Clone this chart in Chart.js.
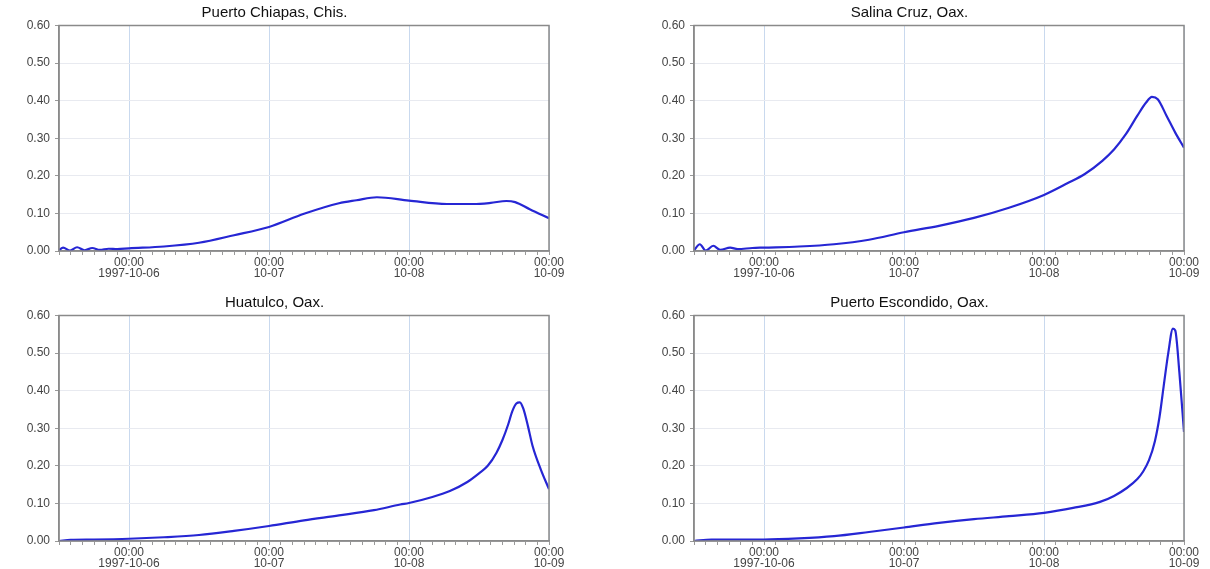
<!DOCTYPE html>
<html>
<head>
<meta charset="utf-8">
<script src="https://cdn.jsdelivr.net/npm/chart.js@4/dist/chart.umd.min.js"></script>
<style>
  body { margin: 0; background: #fff; width: 1210px; height: 569px; position: relative; overflow: hidden; }
  canvas { position: absolute; }
</style>
</head>
<body>
<canvas id="c1" width="569" height="285" style="left:0;top:0"></canvas>
<canvas id="c2" width="569" height="285" style="left:635px;top:0"></canvas>
<canvas id="c3" width="569" height="285" style="left:0;top:290px"></canvas>
<canvas id="c4" width="569" height="285" style="left:635px;top:290px"></canvas>
<script>
// hours relative to 1997-10-06 00:00
const dayTicks = [0, 24, 48, 72];
const dayLabels = [['00:00', '1997-10-06'], ['00:00', '10-07'], ['00:00', '10-08'], ['00:00', '10-09']];
const yTicks = [0, 0.1, 0.2, 0.3, 0.4, 0.5, 0.6];

const chiapasHours = [-12, -11.3, -10.1, -8.9, -7.6, -6.3, -5, -3.5, -2, 0, 6, 12, 18, 24, 30, 36, 39, 42.5, 48, 54.5, 59, 62, 64.7, 66.2, 68.7, 72];
const chiapasValues = [0.002, 0.009, 0.001, 0.010, 0.002, 0.008, 0.003, 0.006, 0.005, 0.007, 0.012, 0.022, 0.042, 0.064, 0.099, 0.127, 0.135, 0.143, 0.134, 0.125, 0.125, 0.128, 0.133, 0.130, 0.111, 0.087];

const salinaHours = [-12, -11, -10, -8.7, -7.5, -5.8, -4.5, -2, 0, 6, 12, 18, 24, 30, 36, 42, 48, 52, 55, 58, 60, 62, 64, 65.5, 66.5, 67.5, 69, 70.5, 72];
const salinaValues = [0.002, 0.018, 0.001, 0.014, 0.003, 0.009, 0.005, 0.008, 0.009, 0.012, 0.018, 0.030, 0.050, 0.067, 0.088, 0.115, 0.149, 0.180, 0.205, 0.240, 0.270, 0.310, 0.360, 0.395, 0.410, 0.404, 0.360, 0.315, 0.275];

const huatulcoHours = [-12, -10, -6, 0, 6, 12, 18, 24, 30, 36, 42, 46.5, 48, 52, 55, 58, 60, 61.5, 63, 64, 65, 65.7, 66.4, 67, 67.6, 68.4, 69.2, 70.6, 72];
const huatulcoValues = [0.000, 0.003, 0.004, 0.006, 0.010, 0.016, 0.027, 0.040, 0.055, 0.068, 0.082, 0.097, 0.101, 0.117, 0.133, 0.157, 0.180, 0.200, 0.235, 0.268, 0.310, 0.345, 0.366, 0.369, 0.352, 0.305, 0.252, 0.190, 0.138];

const escondidoHours = [-12, -9, 0, 6, 12, 18, 24, 30, 36, 42, 48, 53, 57.6, 60, 62.2, 64, 65, 66, 67, 67.8, 68.5, 69.3, 70.1, 70.5, 71.2, 72];
const escondidoValues = [0.000, 0.004, 0.004, 0.007, 0.013, 0.024, 0.036, 0.048, 0.058, 0.066, 0.075, 0.088, 0.104, 0.120, 0.141, 0.165, 0.185, 0.215, 0.265, 0.330, 0.410, 0.500, 0.565, 0.560, 0.450, 0.290];

// minor tick every 2 hours
const xTickHours = [];
for (let h = -12; h <= 72; h += 2) xTickHours.push(h);

Chart.defaults.font.family = '"Liberation Sans", Arial, sans-serif';
Chart.defaults.color = '#444';

const frame = {
    id: 'frame',
    afterDatasetsDraw(chart) {
        const a = chart.chartArea;
        const ctx = chart.ctx;
        ctx.save();
        ctx.strokeStyle = '#8a8a8a';
        ctx.lineWidth = 1.5;
        ctx.strokeRect(a.left, a.top, a.right - a.left, a.bottom - a.top);
        ctx.restore();
    }
};

function makeChart(id, title, hours, values) {
    new Chart(document.getElementById(id), {
        type: 'line',
        data: {
            datasets: [{
                data: hours.map((h, i) => ({ x: h, y: values[i] })),
                borderColor: '#2626d4',
                borderWidth: 2.2,
                pointRadius: 0,
                cubicInterpolationMode: 'monotone',
                fill: false
            }]
        },
        options: {
            responsive: false,
            animation: false,
            layout: { padding: { left: 0, right: 20, top: 0, bottom: 0 } },
            plugins: {
                legend: { display: false },
                tooltip: { enabled: false },
                title: {
                    display: true,
                    text: title,
                    color: '#111',
                    font: { size: 15, weight: 'normal', lineHeight: 1.1 },
                    padding: { top: 5, bottom: 4 }
                }
            },
            scales: {
                x: {
                    type: 'linear',
                    min: -12,
                    max: 72,
                    afterBuildTicks: scale => { scale.ticks = xTickHours.map(v => ({ value: v })); },
                    afterFit: scale => { scale.height = 34; },
                    ticks: {
                        autoSkip: false,
                        maxRotation: 0,
                        minRotation: 0,
                        padding: 3,
                        font: { size: 12, lineHeight: 0.85 },
                        color: '#444',
                        callback: v => {
                            const i = dayTicks.indexOf(v);
                            return i >= 0 ? dayLabels[i] : '';
                        }
                    },
                    grid: {
                        color: ctx => (ctx.tick && dayTicks.includes(ctx.tick.value)) ? '#c9d9ee' : 'rgba(0,0,0,0)',
                        tickColor: '#999',
                        tickLength: 4
                    },
                    border: { color: '#8a8a8a', width: 1.5 }
                },
                y: {
                    min: 0,
                    max: 0.6,
                    afterBuildTicks: scale => { scale.ticks = yTicks.map(v => ({ value: v })); },
                    afterFit: scale => { scale.width = 59; },
                    ticks: {
                        padding: 5,
                        font: { size: 12 },
                        color: '#444',
                        callback: v => v.toFixed(2)
                    },
                    grid: {
                        color: '#e8eaf0',
                        tickColor: '#999',
                        tickLength: 4
                    },
                    border: { color: '#8a8a8a', width: 1.5 }
                }
            }
        },
        plugins: [frame]
    });
}

makeChart('c1', 'Puerto Chiapas, Chis.', chiapasHours, chiapasValues);
makeChart('c2', 'Salina Cruz, Oax.', salinaHours, salinaValues);
makeChart('c3', 'Huatulco, Oax.', huatulcoHours, huatulcoValues);
makeChart('c4', 'Puerto Escondido, Oax.', escondidoHours, escondidoValues);
</script>
</body>
</html>
